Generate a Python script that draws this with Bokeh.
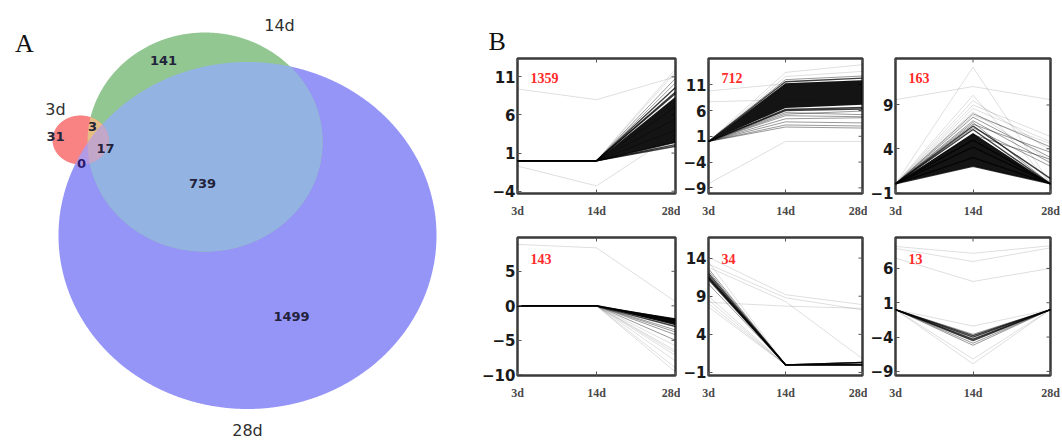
import numpy as np
from bokeh.plotting import figure
from bokeh.models import Range1d, FixedTicker, LinearAxis, Label
from bokeh.layouts import row, column
from bokeh.embed import file_html
from bokeh.resources import INLINE
from bokeh.core.properties import value

# ---------------- Panel A data (Venn) ----------------
venn_set_names = ["3d", "14d", "28d"]
venn_region_names = ["3d only", "3d&14d", "3d&14d&28d", "3d&28d", "14d only", "14d&28d", "28d only"]
venn_counts = [31, 3, 17, 0, 141, 739, 1499]

# ---------------- Panel B data (expression profiles) ----------------
time_points = ["3d", "14d", "28d"]
cluster_sizes = [1359, 712, 163, 143, 34, 13]
y_tick_values = [[-4, 1, 6, 11], [-9, -4, 1, 6, 11], [-1, 4, 9],
                 [-10, -5, 0, 5], [-1, 4, 9, 14], [-9, -4, 1, 6]]

# profiles: [3d, 14d, 28d]
p1_dark = [[0, 0, 9.0], [0, 0, 9.6], [0, 0, 1.9], [0, 0, 2.1], [0, 0, 8.8], [0, 0, 2.4]]
p1_mid = [[0, 0, 10.2], [0, 0, 10.8], [0, 0, 7.0], [0, 0, 5.5], [0, 0, 4.0]]
p1_light = [[9.4, 8.0, 11.0], [-0.7, -3.3, 3.5], [0, 0, 11.6], [0, 0, 12.0]]
p1_core_lo = [0, 2.4]
p1_core_hi = [0, 8.4]

p2_dark = [[0, 6.2, 6.6], [0, 11.6, 12.3], [0, 6.0, 6.3]]
p2_mid = [[0, 5.6, 5.2], [0, 5.0, 4.8], [0, 4.4, 4.6], [0, 3.8, 3.6], [0, 3.2, 3.0],
          [0, 2.8, 2.6], [0, 12.0, 12.7], [0, 5.3, 5.9]]
p2_light = [[0, 13.4, 14.9], [9.8, 11.2, 11.8], [7.7, 8.1, 8.3], [-8.2, 0, 0], [0, 12.6, 13.6]]
p2_core_lo = [0, 6.5, 7.1]
p2_core_hi = [0, 11.3, 11.9]

p3_dark = [[0, 6.2, 0], [0, 5.0, 0], [0, 4.2, 0], [0, 3.0, 0], [0, 2.0, 0], [0, 6.6, 0.6]]
p3_mid = [[0, 7.2, 2.4], [0, 7.6, 3.0], [0, 6.8, 3.6], [0, 8.0, 4.2], [0, 6.4, 2.0],
          [0, 5.6, 2.8], [0, 7.0, 0]]
p3_light = [[0, 13.3, 0], [0, 10.1, 0], [9.6, 11.1, 9.6], [0, 9.0, 5.4], [0, 8.6, 4.8],
            [0, 9.5, 3.8], [0, 8.2, 2.6], [0, 7.8, 4.6]]
p3_core_lo = [0, 2.0, 0]
p3_core_hi = [0, 5.8, 0]

p4_dark = [[0, 0, -2.0], [0, 0, -2.5], [0, 0, -2.2], [0, 0, -3.0]]
p4_mid = [[0, 0, -3.5], [0, 0, -4.2], [0, 0, -5.0], [0, 0, -3.8]]
p4_light = [[8.9, 8.4, 0.6], [0, 0, -5.8], [0, 0, -6.5], [0, 0, -7.2], [0, 0, -8.0],
            [0, 0, -9.0], [0, 0, -9.6], [0, 0, -6.8]]
p4_core_lo = [0, -2.8]
p4_core_hi = [0, -1.8]

p5_dark = [[11.4, 0, 0], [11.7, 0, 0], [11.2, 0, 0.3], [12.0, 0, 0], [11.5, 0, 0.3]]
p5_mid = [[12.6, 0, 0], [10.6, 0, 0], [12.3, 0, 0.3]]
p5_light = [[14.1, 9.2, 7.9], [13.2, 8.8, 7.2], [12.8, 8.3, 0.8], [9.0, 0, 0], [8.5, 0, 0],
            [8.0, 0, 0], [7.6, 0, 0.3], [8.2, 7.7, 7.4], [13.5, 0, 0]]

p6_dark = [[0, -4.0, 0], [0, -4.3, 0], [0, -4.5, 0], [0, -3.8, 0]]
p6_mid = [[0, -3.6, 0], [0, -4.9, 0], [0, -5.2, 0]]
p6_light = [[0, -2.4, 0], [0, -7.2, 0], [0, -7.9, 0], [9.2, 8.2, 9.3], [8.9, 7.0, 9.0],
            [7.5, 4.1, 6.0]]

# ---------------- layout / geometry (not data) ----------------
# Venn ellipses in page-pixel coordinates: cx, cy, rx, ry
ell = {"3d": (80.0, 139.5, 28.0, 24.5),
       "14d": (204.5, 141.5, 117.5, 109.5),
       "28d": (247.0, 235.0, 189.0, 173.5)}
region_label_xy = [(55, 136), (92, 126), (105, 148), (81, 163), (163, 60), (202, 183), (291, 316)]
set_label_xy = [(55, 109), (279, 25), (247, 430)]

C_RED, C_GREEN, C_BLUE = "#f98282", "#92c792", "#9595f8"
C_GB, C_RG, C_RB, C_RGB = "#93b4e3", "#e6bd84", "#b39ae4", "#c3a7c8"


def ell_boundary(e, n=1440):
    cx, cy, rx, ry = e
    t = np.linspace(0, 2 * np.pi, n, endpoint=False)
    return cx + rx * np.cos(t), cy + ry * np.sin(t)


def inside(x, y, e):
    cx, cy, rx, ry = e
    return ((x - cx) / rx) ** 2 + ((y - cy) / ry) ** 2 <= 1.0 + 1e-9


def intersect(es):
    px, py = [], []
    for i, e in enumerate(es):
        x, y = ell_boundary(e)
        m = np.ones_like(x, dtype=bool)
        for j, f in enumerate(es):
            if j != i:
                m &= inside(x, y, f)
        px.append(x[m])
        py.append(y[m])
    px = np.concatenate(px)
    py = np.concatenate(py)
    order = np.argsort(np.arctan2(py - py.mean(), px - px.mean()))
    return px[order].tolist(), py[order].tolist()


# ---------------- Panel A ----------------
pA = figure(width=470, height=439, x_range=Range1d(0, 470), y_range=Range1d(439, 0),
            output_backend="svg", toolbar_location=None, min_border=0,
            x_axis_location=None, y_axis_location=None, outline_line_color=None)
pA.grid.visible = False

for name, col in (("28d", C_BLUE), ("14d", C_GREEN)):
    bx, by = ell_boundary(ell[name])
    pA.patch(bx.tolist(), by.tolist(), fill_color=col, line_color=None)
xs, ys = intersect([ell["14d"], ell["28d"]])
pA.patch(xs, ys, fill_color=C_GB, line_color=None)
bx, by = ell_boundary(ell["3d"])
pA.patch(bx.tolist(), by.tolist(), fill_color=C_RED, line_color=None)
for combo, col in (((ell["3d"], ell["14d"]), C_RG), ((ell["3d"], ell["28d"]), C_RB),
                   ((ell["3d"], ell["14d"], ell["28d"]), C_RGB)):
    xs, ys = intersect(list(combo))
    pA.patch(xs, ys, fill_color=col, line_color=None)

num_colors = ["#22223a"] * 7
num_colors[3] = "#2c1a70"
pA.text(x=[p[0] for p in region_label_xy], y=[p[1] for p in region_label_xy],
        text=[str(c) for c in venn_counts], text_color=num_colors,
        text_align="center", text_baseline="middle", text_font=value("DejaVu Sans"),
        text_font_size="13px", text_font_style="bold")
pA.text(x=[p[0] for p in set_label_xy], y=[p[1] for p in set_label_xy], text=venn_set_names,
        text_color="#2e2e2e", text_align="center", text_baseline="middle",
        text_font=value("DejaVu Sans"), text_font_size="16px")
pA.text(x=[24], y=[43], text=["A"], text_color="#111111", text_align="center",
        text_baseline="middle", text_font=value("Liberation Serif"), text_font_size="26px")

# ---------------- Panel B ----------------
panels = [
    (p1_dark, p1_mid, p1_light, ([1, 2], p1_core_lo, p1_core_hi)),
    (p2_dark, p2_mid, p2_light, ([0, 1, 2], p2_core_lo, p2_core_hi)),
    (p3_dark, p3_mid, p3_light, ([0, 1, 2], p3_core_lo, p3_core_hi)),
    (p4_dark, p4_mid, p4_light, ([1, 2], p4_core_lo, p4_core_hi)),
    (p5_dark, p5_mid, p5_light, None),
    (p6_dark, p6_mid, p6_light, None),
]
y_limits = [(-4.3, 13.4), (-10.1, 16.1), (-1.1, 14.3), (-10.1, 9.9), (-1.4, 16.7), (-9.6, 10.5)]
col_geom = [(210, 47, 5), (187, 25, 5), (193, 26, 10)]   # width, border left, border right
row_geom = [(220, 58, 25, -19), (219, 17, 64, -21)]      # height, border top, border bottom, label offset


def fmt(v):
    return ("\u2212" + str(abs(v))) if v < 0 else str(v)


def small(i):
    r, c = divmod(i, 3)
    w, bl, br = col_geom[c]
    h, bt, bb, loff = row_geom[r]
    lo, hi = y_limits[i]
    p = figure(width=w, height=h, x_range=Range1d(0, 2), y_range=Range1d(lo, hi),
               output_backend="svg", toolbar_location=None,
               min_border_left=bl, min_border_right=br, min_border_top=bt, min_border_bottom=bb,
               x_axis_location=None, y_axis_location=None)
    p.grid.visible = False
    p.outline_line_color = "#3a3a3a"
    p.outline_line_width = 2.5
    yt = y_tick_values[i]

    ay = LinearAxis(ticker=FixedTicker(ticks=yt), major_label_overrides={t: fmt(t) for t in yt})
    ax = LinearAxis(ticker=FixedTicker(ticks=[0, 1, 2]),
                    major_label_overrides={k: time_points[k] for k in range(3)})
    for a in (ay, ax):
        a.axis_line_color = None
        a.major_tick_in = 4
        a.major_tick_out = 0
        a.major_tick_line_color = "#555555"
        a.minor_tick_line_color = None
    ay.major_label_text_font = "DejaVu Sans"
    ay.major_label_text_font_size = "15px"
    ay.major_label_text_font_style = "bold"
    ay.major_label_text_color = "#1a1a1a"
    ay.major_label_standoff = 2
    ax.major_label_text_font = "Liberation Serif"
    ax.major_label_text_font_size = "12px"
    ax.major_label_text_font_style = "bold"
    ax.major_label_text_color = "#4a4a4a"
    ax.major_label_standoff = 10
    p.add_layout(ay, "left")
    p.add_layout(ax, "below")
    # mirrored inward ticks on the right and top edges
    p.ray(x=[2] * len(yt), y=yt, length=4, length_units="screen", angle=np.pi,
          line_color="#555555", line_width=1)
    p.ray(x=[0, 1, 2], y=[hi] * 3, length=4, length_units="screen", angle=-np.pi / 2,
          line_color="#555555", line_width=1)

    dark, mid, light, core = panels[i]
    p.multi_line(xs=[[0, 1, 2]] * len(light), ys=light, line_color="black",
                 line_alpha=0.13, line_width=1)
    p.multi_line(xs=[[0, 1, 2]] * len(mid), ys=mid, line_color="black",
                 line_alpha=0.4, line_width=1)
    if core is not None:
        p.varea(x=core[0], y1=core[1], y2=core[2], fill_color="black", fill_alpha=0.92)
    p.multi_line(xs=[[0, 1, 2]] * len(dark), ys=dark, line_color="black",
                 line_alpha=0.75, line_width=1.4)

    p.add_layout(Label(x=0, y=hi, x_offset=13, y_offset=loff, text=str(cluster_sizes[i]),
                       text_color="#ff2b2b", text_font="Liberation Serif", text_font_size="14px",
                       text_font_style="bold", text_baseline="middle", text_align="left"))
    if i == 0:
        p.title.text = "B"
        p.title.text_font = "Liberation Serif"
        p.title.text_font_size = "26px"
        p.title.text_font_style = "normal"
        p.title.text_color = "#111111"
        p.title.align = "left"
        p.title.offset = -29
        p.title.standoff = 6
    return p


figs = [small(i) for i in range(6)]
layout = row(pA, column(row(*figs[:3]), row(*figs[3:])))

open("out.html", "w").write(file_html(layout, INLINE))
